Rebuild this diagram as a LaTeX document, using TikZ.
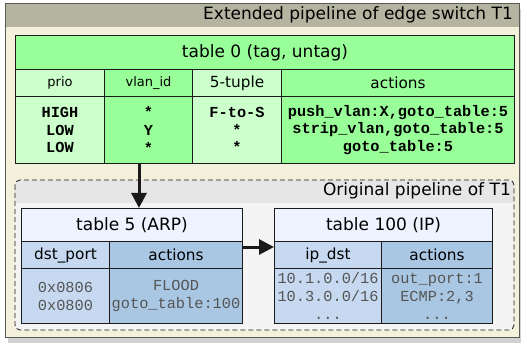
\documentclass[tikz,border=0pt]{standalone}
\usepackage{fontspec}
\setmainfont{DejaVu Sans}
\newfontfamily\codefont{Liberation Mono}
\usetikzlibrary{arrows.meta}
\definecolor{Ink}{HTML}{1A1A1A}
\definecolor{Edge}{HTML}{5A5A55}
\definecolor{Frame}{HTML}{F3F0DC}
\definecolor{Band}{HTML}{B5B4A0}
\definecolor{Shade}{HTML}{D2D2D2}
\definecolor{Pale}{HTML}{F4F4F4}
\definecolor{PaleBand}{HTML}{E6E6E6}
\definecolor{GreenDark}{HTML}{99FF99}
\definecolor{GreenLight}{HTML}{CCFFCC}
\definecolor{BlueTitle}{HTML}{EEF4FF}
\definecolor{BlueLight}{HTML}{C6D9F0}
\definecolor{BlueDark}{HTML}{A9C7E3}
\definecolor{Dim}{HTML}{555555}

\begin{document}
\begin{tikzpicture}[x=1pt,y=-1pt,cell/.style={draw=Ink,line width=1pt,anchor=north west,inner sep=0pt,align=center},big/.style={font=\fontsize{17}{20}\selectfont},head/.style={font=\fontsize{15.3}{18}\selectfont},small/.style={font=\fontsize{13}{15}\selectfont},code/.style={font=\codefont\fontsize{15.3}{17.6}\selectfont},dim/.style={font=\codefont\fontsize{15.3}{18}\selectfont,text=Dim},flow/.style={draw=Ink,line width=3pt,-{Triangle[length=15pt,width=15pt]}}]
\useasboundingbox (0,0) rectangle (521,347);
\fill[Shade] (8,9) rectangle (521,343);
\fill[Frame] (5,3) rectangle (519,337);\fill[Band] (5,3) rectangle (519,27);
\draw[Edge,line width=0.8pt] (5,3) rectangle (519,337);
\node[big,anchor=east,inner sep=0pt] (extlbl) at (513,15) {Extended pipeline of edge switch T1};

% table 0
\node[cell,big,fill=GreenDark,minimum width=499pt,minimum height=34pt] (t0) at (15,35) {table 0 (tag, untag)};
\node[cell,small,fill=GreenLight,minimum width=89pt,minimum height=27pt] (t0h1) at (15,69) {prio};
\node[cell,small,fill=GreenDark,minimum width=88pt,minimum height=27pt] (t0h2) at (104,69) {vlan\_id};
\node[cell,head,fill=GreenLight,minimum width=89pt,minimum height=27pt] (t0h3) at (192,69) {5-tuple};
\node[cell,head,fill=GreenDark,minimum width=233pt,minimum height=27pt] (t0h4) at (281,69) {actions};
\node[cell,code,fill=GreenLight,minimum width=89pt,minimum height=67pt] (t0d1) at (15,96) {\bfseries HIGH\\\bfseries LOW\\\bfseries LOW};
\node[cell,code,fill=GreenDark,minimum width=88pt,minimum height=67pt] (t0d2) at (104,96) {\bfseries *\\\bfseries Y\\\bfseries *};
\node[cell,code,fill=GreenLight,minimum width=89pt,minimum height=67pt] (t0d3) at (192,96) {\bfseries F-to-S\\\bfseries *\\\bfseries *};
\node[cell,code,fill=GreenDark,minimum width=233pt,minimum height=67pt] (t0d4) at (281,96) {\bfseries push\_vlan:X,goto\_table:5\\\bfseries strip\_vlan,goto\_table:5\\\bfseries goto\_table:5};

% original pipeline
\begin{scope}
\clip[rounded corners=5pt] (15,180) rectangle (514,330);
\fill[Pale] (15,180) rectangle (514,330);\fill[PaleBand] (15,180) rectangle (514,203);
\end{scope}
\draw[Ink,dashed,dash pattern=on 5pt off 3pt,line width=0.8pt,rounded corners=5pt] (15,180) rectangle (514,330);
\node[big,anchor=east,inner sep=0pt] (origlbl) at (511,191) {Original pipeline of T1};

% table 5
\node[cell,big,fill=BlueTitle,minimum width=221pt,minimum height=33pt] (t5) at (21,208) {table 5 (ARP)};
\node[cell,head,fill=BlueLight,minimum width=88pt,minimum height=27pt] (t5h1) at (21,241) {dst\_port};
\node[cell,head,fill=BlueDark,minimum width=133pt,minimum height=27pt] (t5h2) at (109,241) {actions};
\node[cell,dim,fill=BlueLight,minimum width=88pt,minimum height=55pt] (t5d1) at (21,268) {0x0806\\0x0800};
\node[cell,dim,fill=BlueDark,minimum width=133pt,minimum height=55pt] (t5d2) at (109,268) {FLOOD\\goto\_table:100};

% table 100
\node[cell,big,fill=BlueTitle,minimum width=218pt,minimum height=33pt] (t100) at (274,208) {table 100 (IP)};
\node[cell,head,fill=BlueLight,minimum width=107pt,minimum height=27pt] (t100h1) at (274,241) {ip\_dst};
\node[cell,head,fill=BlueDark,minimum width=111pt,minimum height=27pt] (t100h2) at (381,241) {actions};
\node[cell,dim,fill=BlueLight,minimum width=107pt,minimum height=55pt] (t100d1) at (274,268) {10.1.0.0/16\\10.3.0.0/16\\...};
\node[cell,dim,fill=BlueDark,minimum width=111pt,minimum height=55pt] (t100d2) at (381,268) {out\_port:1\\ECMP:2,3\\...};

% flow between tables
\coordinate (a1) at ([xshift=35pt]t0d2.south west);
\draw[flow] (a1) -- (a1 |- t5.north);
\coordinate (a2) at ([yshift=-5pt]t5.south east);
\draw[flow] (a2) -- (a2 -| t100.west);
\end{tikzpicture}
\end{document}
